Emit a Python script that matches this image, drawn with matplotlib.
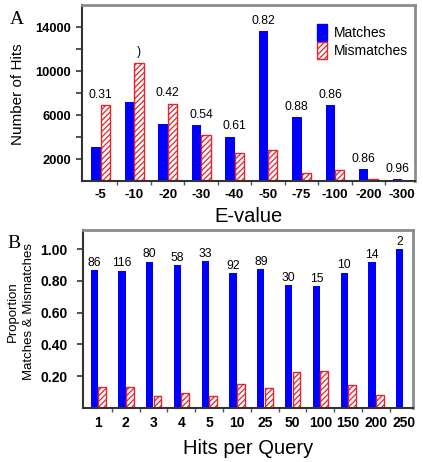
import matplotlib
matplotlib.use("Agg")
import matplotlib.pyplot as plt
import numpy as np
from matplotlib.patches import Patch

plt.rcParams['font.family'] = ['Liberation Sans', 'DejaVu Sans']
plt.rcParams['hatch.linewidth'] = 0.9

# ---- Panel A data ----
evalue_cats = ["-5", "-10", "-20", "-30", "-40", "-50", "-75", "-100", "-200", "-300"]
a_matches = [3090, 7150, 5150, 5090, 4030, 13640, 5790, 6880, 1060, 180]
a_mismatches = [6880, 10760, 7030, 4180, 2515, 2820, 730, 970, 150, 0]
a_labels = ["0.31", ")", "0.42", "0.54", "0.61", "0.82", "0.88", "0.86", "0.86", "0.96"]
a_label_on = ["g", "mm", "g", "g", "g", "m", "m", "m", "m", "m"]

# ---- Panel B data ----
hits_cats = ["1", "2", "3", "4", "5", "10", "25", "50", "100", "150", "200", "250"]
b_matches = [0.869, 0.863, 0.921, 0.900, 0.925, 0.848, 0.875, 0.773, 0.765, 0.852, 0.917, 1.000]
b_mismatches = [0.135, 0.135, 0.077, 0.096, 0.075, 0.148, 0.123, 0.225, 0.231, 0.144, 0.081, 0.0]
b_labels = ["86", "116", "80", "58", "33", "92", "89", "30", "15", "10", "14", "2"]

BLUE = '#0000ff'
RED = '#e3262b'
W = 0.28

fig = plt.figure(figsize=(4.23, 4.62), dpi=100)
axA = fig.add_axes([82/423, 1-181/462, (415-82)/423, (181-5)/462])
axB = fig.add_axes([83/423, 1-408/462, (413-83)/423, (408-230)/462])

def style(ax):
    for s in ['top', 'right']:
        ax.spines[s].set_color('#8c8c8c')
        ax.spines[s].set_linewidth(2.0)
    for s in ['left', 'bottom']:
        ax.spines[s].set_color('#333333')
        ax.spines[s].set_linewidth(1.5)
    ax.tick_params(axis='y', which='both', direction='out', length=4, width=1.2,
                   color='#333333', pad=4)
    ax.tick_params(axis='x', which='major', length=0, pad=6)
    ax.tick_params(axis='x', which='minor', direction='out', length=3, width=1,
                   color='#555555')

# Panel A
xa = np.arange(len(evalue_cats))
axA.bar(xa - W/2, a_matches, W, color=BLUE, zorder=2)
axA.bar(xa + W/2, a_mismatches, W, facecolor='white', edgecolor=RED, hatch='//////',
        linewidth=1.0, zorder=2)
axA.set_xlim(-0.56, 9.39)
axA.set_ylim(0, 16000)
axA.set_yticks([2000, 6000, 10000, 14000])
axA.set_yticks([4000, 8000, 12000], minor=True)
axA.set_xticks(xa)
axA.set_xticks(xa[:-1] + 0.5, minor=True)
axA.set_xticklabels(evalue_cats, fontsize=9.5, fontweight='bold')
for lab in axA.get_yticklabels():
    lab.set_fontsize(9.3); lab.set_fontweight('bold')
style(axA)
for i, (lab, on) in enumerate(zip(a_labels, a_label_on)):
    top = max(a_matches[i], a_mismatches[i])
    x = i if on == 'g' else (i - W/2 if on == 'm' else i + W/2)
    axA.annotate(lab, (x, top), xytext=(0, 7.5), textcoords='offset points',
                 ha='center', va='center', fontsize=8.7)
axA.set_xlabel("E-value", fontsize=14.5, labelpad=4)
fig.text(18/423, 1-94/462, "Number of Hits", rotation=90, ha='center', va='center',
         fontsize=11)
leg = axA.legend(handles=[Patch(facecolor=BLUE, edgecolor=BLUE),
                          Patch(facecolor='white', edgecolor=RED, hatch='//////')],
                 labels=["Matches", "Mismatches"], loc='upper left',
                 bbox_to_anchor=(0.69, 0.925), frameon=False, fontsize=10,
                 handlelength=0.7, handleheight=1.5, handletextpad=0.5,
                 labelspacing=0.1, borderaxespad=0)
fig.text(17/423, 1-19/462, "A", fontsize=14, family='Liberation Serif',
         ha='center', va='center')

# Panel B
xb = np.arange(len(hits_cats))
axB.bar(xb - W/2, b_matches, 0.26, color=BLUE, zorder=2)
axB.bar(xb + W/2, b_mismatches, W, facecolor='white', edgecolor=RED, hatch='//////',
        linewidth=1.0, zorder=2)
axB.set_xlim(-0.54, 11.335)
axB.set_ylim(0, 1.12)
axB.set_yticks([0.2, 0.4, 0.6, 0.8, 1.0])
axB.set_yticklabels(["0.20", "0.40", "0.60", "0.80", "1.00"], fontsize=10,
                    fontweight='bold')
axB.set_xticks(xb)
axB.set_xticks(xb[:-1] + 0.5, minor=True)
axB.set_xticklabels(hits_cats, fontsize=10, fontweight='bold')
style(axB)
axB.tick_params(axis='y', which='both', pad=7)
for i, lab in enumerate(b_labels):
    axB.annotate(lab, (i - W/2, b_matches[i]), xytext=(0, 1), textcoords='offset points',
                 ha='center', va='bottom', fontsize=8.7)
axB.set_xlabel("Hits per Query", fontsize=14.5, labelpad=6)
fig.text(13/423, 1-312/462, "Proportion", rotation=90, ha='center', va='center',
         fontsize=9.5)
fig.text(29/423, 1-312/462, "Matches & Mismatches", rotation=90, ha='center',
         va='center', fontsize=9.5)
fig.text(13.5/423, 1-244/462, "B", fontsize=14, family='Liberation Serif',
         ha='center', va='center')

fig.savefig("out.png", dpi=100)
